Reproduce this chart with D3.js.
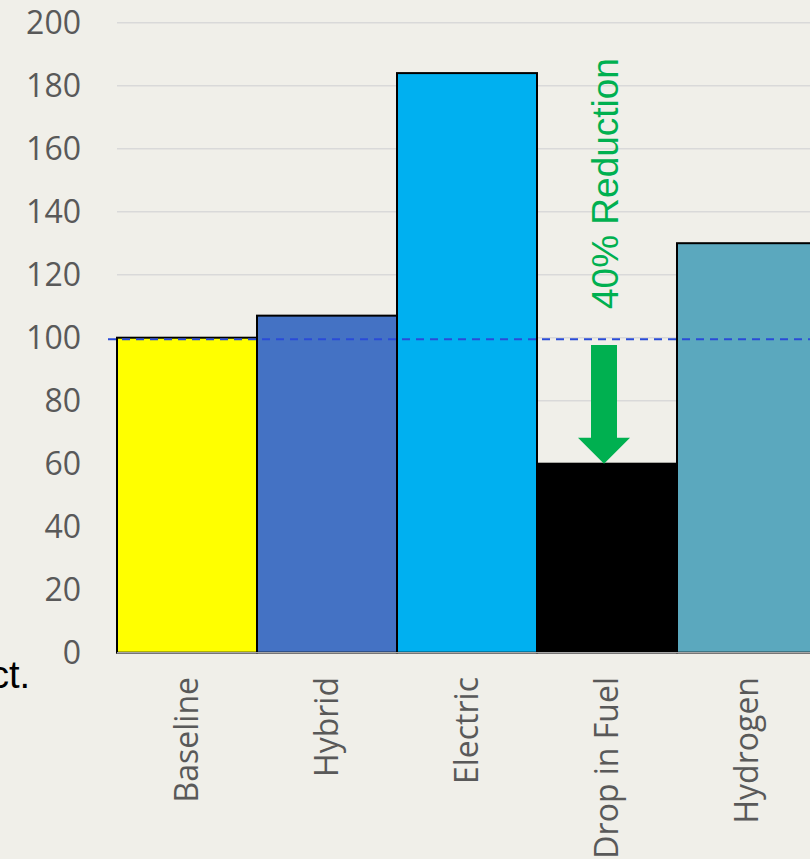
<!DOCTYPE html>
<html><head><meta charset="utf-8">
<script src="https://cdn.jsdelivr.net/npm/d3@7"></script>
<style>
html,body{margin:0;padding:0;background:#f0efe9;}
svg{display:block;}
</style></head>
<body>
<svg id="chart" width="810" height="859"></svg>
<script>
const categories = ["Baseline", "Hybrid", "Electric", "Drop in Fuel", "Hydrogen"];
const values = [100, 107, 184, 60, 130];
const colors = ["#ffff00", "#4472c4", "#00b0f0", "#000000", "#5ba8be"];
const yTicks = [0, 20, 40, 60, 80, 100, 120, 140, 160, 180, 200];
const referenceValue = 100;
const arrowFrom = 98, arrowTo = 60;
const annotation = "40% Reduction";

const svg = d3.select("#chart");
const x = d3.scaleBand().domain(categories).range([117, 817]).padding(0);
const y = d3.scaleLinear().domain([0, 200]).range([652.7, 22.7]);

// gridlines
svg.append("g").selectAll("line").data(yTicks.filter(d => d > 0)).join("line")
  .attr("x1", 117).attr("x2", 810)
  .attr("y1", d => y(d)).attr("y2", d => y(d))
  .attr("stroke", "#d9d9d9").attr("stroke-width", 1.5);

// y tick labels
svg.append("g").selectAll("text").data(yTicks).join("text")
  .attr("x", 81).attr("y", d => y(d))
  .attr("dy", "0.34em")
  .attr("text-anchor", "end")
  .attr("font-family", "'Open Sans', sans-serif")
  .attr("font-size", 32)
  .attr("fill", "#595959")
  .text(d => d);

// bars
svg.append("g").selectAll("rect").data(values).join("rect")
  .attr("x", (d, i) => x(categories[i]))
  .attr("width", x.bandwidth())
  .attr("y", d => y(d))
  .attr("height", d => y(0) - y(d))
  .attr("fill", (d, i) => colors[i])
  .attr("stroke", "#000")
  .attr("stroke-width", 2);

// x axis line
svg.append("line").attr("x1", 117).attr("x2", 810)
  .attr("y1", y(0)).attr("y2", y(0))
  .attr("stroke", "#a6a6a6").attr("stroke-width", 1.5);

// category labels
svg.append("g").selectAll("text").data(categories).join("text")
  .attr("transform", d => `translate(${x(d) + x.bandwidth() / 2 + 11},677) rotate(-90)`)
  .attr("text-anchor", "end")
  .attr("font-family", "'Open Sans', sans-serif")
  .attr("font-size", 32)
  .attr("fill", "#595959")
  .text(d => d);

// reference dashed line
svg.append("line").attr("x1", 108).attr("x2", 810)
  .attr("y1", y(referenceValue) + 1.5).attr("y2", y(referenceValue) + 1.5)
  .attr("stroke", "#2a4bd7").attr("stroke-width", 2)
  .attr("stroke-dasharray", "8,6");

// arrow
const cx = x("Drop in Fuel") + x.bandwidth() / 2 - 3;
const sw = 13, hw = 26, headH = 26;
const yTop = y(arrowFrom) + 1, yTip = y(arrowTo);
const pts = [
  [cx - sw, yTop], [cx + sw, yTop], [cx + sw, yTip - headH], [cx + hw, yTip - headH],
  [cx, yTip], [cx - hw, yTip - headH], [cx - sw, yTip - headH]
];
svg.append("polygon").attr("points", pts.map(p => p.join(",")).join(" "))
  .attr("fill", "#00b050");

// annotation
svg.append("text")
  .attr("transform", `translate(${cx + 14},309) rotate(-90)`)
  .attr("text-anchor", "start")
  .attr("font-family", "'Liberation Sans', Arial, sans-serif")
  .attr("font-size", 37)
  .attr("fill", "#00b050")
  .text(annotation);

// cut-off side text
svg.append("text").attr("x", 30).attr("y", 688)
  .attr("text-anchor", "end")
  .attr("font-family", "'Liberation Sans', Arial, sans-serif")
  .attr("font-size", 38)
  .attr("fill", "#000")
  .text("ct.");
</script>
</body></html>
